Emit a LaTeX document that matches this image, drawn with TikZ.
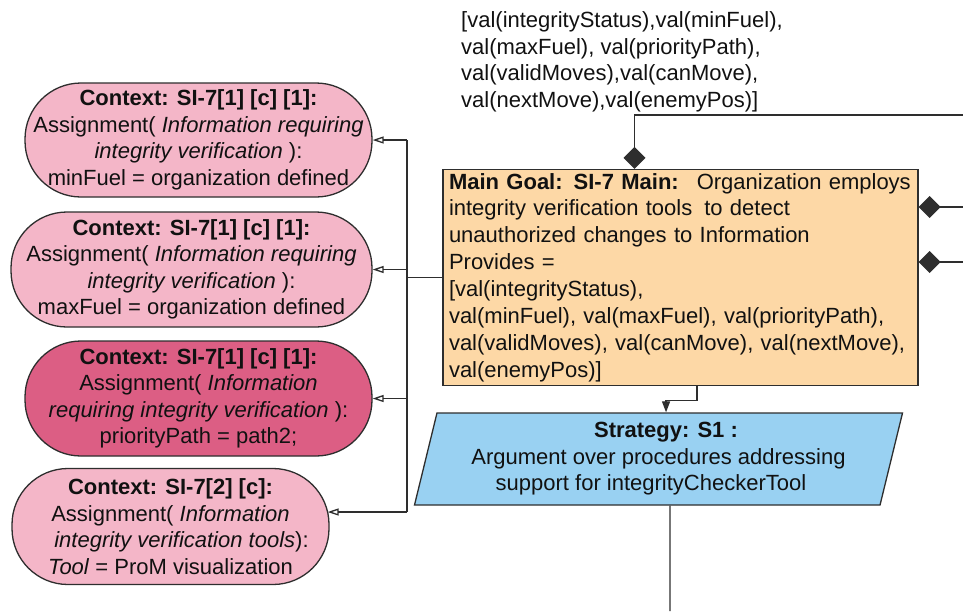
\documentclass[tikz,border=0pt]{standalone}
\usepackage{fontspec}
\setmainfont{Liberation Sans}
\usetikzlibrary{arrows.meta,shapes.geometric,calc}

\definecolor{linec}{HTML}{2E2E2E}
\definecolor{textc}{HTML}{111111}
\definecolor{ctxlight}{HTML}{F4B6C8}
\definecolor{ctxdark}{HTML}{DC5E84}
\definecolor{goalfill}{HTML}{FDD8A6}
\definecolor{stratfill}{HTML}{99D1F2}

\begin{document}
\begin{tikzpicture}[x=1pt,y=-1pt,
  txt/.style={text=textc, font=\fontsize{22pt}{26.5pt}\selectfont},
  ctx/.style={txt, draw=linec, line width=1.3pt, rounded corners=56pt,
    align=center, inner sep=0pt},
  goalbox/.style={txt, draw=linec, line width=1.3pt, fill=goalfill,
    align=left, inner xsep=6pt, inner ysep=0pt,
    font=\fontsize{22pt}{26.9pt}\selectfont},
  stratbox/.style={txt, draw=linec, line width=1.3pt, fill=stratfill,
    trapezium, trapezium left angle=76, trapezium right angle=104,
    trapezium stretches=true, align=center, inner sep=2pt},
  conn/.style={draw=linec, line width=1.3pt},
  ctxarrow/.style={conn, -{Triangle[open, length=11pt, width=7pt]}},
  solidarrow/.style={conn, -{Triangle[length=11pt, width=8pt]}},
  diamondtip/.style={conn, -{Diamond[length=22pt, width=22pt]}}
]
\path[use as bounding box] (0,0) rectangle (963,611);

% provided values
\node[txt, align=left, inner sep=0pt, anchor=west] (vals) at (461,62)
  {[val(integrityStatus),val(minFuel),\\
   val(maxFuel), val(priorityPath),\\
   val(validMoves),val(canMove),\\
   val(nextMove),val(enemyPos)]};

% main goal
\node[goalbox, text width=463pt, minimum height=216pt] (goal) at (680.5,277.5)
  {\textbf{Main Goal: SI-7 Main:}\hspace{18pt}Organization employs\\
   integrity verification tools\hspace{12pt}to detect\\
   unauthorized changes to Information\\
   Provides =\\\relax
   [val(integrityStatus),\\
   val(minFuel), val(maxFuel), val(priorityPath),\\
   val(validMoves), val(canMove), val(nextMove),\\
   val(enemyPos)]};

% strategy
\node[stratbox, minimum width=489pt, minimum height=92pt] (strat) at (658.5,459)
  {\hspace*{15pt}\textbf{Strategy: S1 :}\\
   Argument over procedures addressing\\
   support for integrityCheckerTool\hspace*{15pt}};

% contexts
\node[ctx, fill=ctxlight, minimum width=347pt, minimum height=114pt] (c1) at (198.5,140)
  {\textbf{Context: SI-7[1] [c] [1]:}\\
   Assignment( \textit{Information requiring}\\
   \textit{integrity verification} ):\\
   minFuel = organization defined};
\node[ctx, fill=ctxlight, minimum width=361pt, minimum height=115pt] (c2) at (191.5,269.5)
  {\textbf{Context: SI-7[1] [c] [1]:}\\
   Assignment( \textit{Information requiring}\\
   \textit{integrity verification} ):\\
   maxFuel = organization defined};
\node[ctx, fill=ctxdark, minimum width=347pt, minimum height=115pt] (c3) at (198.5,398.5)
  {\textbf{Context: SI-7[1] [c] [1]:}\\
   Assignment( \textit{Information}\\
   \textit{requiring integrity verification} ):\\
   priorityPath = path2;};
\node[ctx, fill=ctxlight, minimum width=317pt, minimum height=116pt] (c4) at (170.5,526.5)
  {\textbf{Context: SI-7[2] [c]:}\\
   Assignment( \textit{Information}\\
   \hspace*{22pt}\textit{integrity verification tools}):\\
   \textit{Tool} = ProM visualization};

% connector ends
\coordinate (jn) at (407,277.5);
\coordinate (c4in) at ($(c4.east)+(-2,-14.5)$);
\coordinate (topR) at (963,115);
\coordinate (gtop) at ($(goal.north)+(-46,0)$);
\coordinate (r1) at (963,207);
\coordinate (r2) at (963,262);
\coordinate (bot) at (670,611);

% goal to contexts
\draw[conn] (goal.west) -- (jn);
\draw[conn] (jn |- c1.east) -- (jn |- c4in);
\draw[ctxarrow] (jn |- c1.east) -- (c1.east);
\draw[ctxarrow] (jn |- c2.east) -- (c2.east);
\draw[ctxarrow] (jn |- c3.east) -- (c3.east);
\draw[ctxarrow] (jn |- c4in) -- (c4in);

% composition links
\draw[diamondtip] (topR) -| (gtop);
\draw[diamondtip] (r1) -- (r1 -| goal.east);
\draw[diamondtip] (r2) -- (r2 -| goal.east);

% goal to strategy and onwards
\draw[solidarrow] ($(goal.south)+(16.5,0)$) -- ++(0,14) -| ($(strat.north)+(7.5,0)$);
\draw[conn] ($(strat.south)+(11.5,0)$) -- (bot);
\end{tikzpicture}
\end{document}
